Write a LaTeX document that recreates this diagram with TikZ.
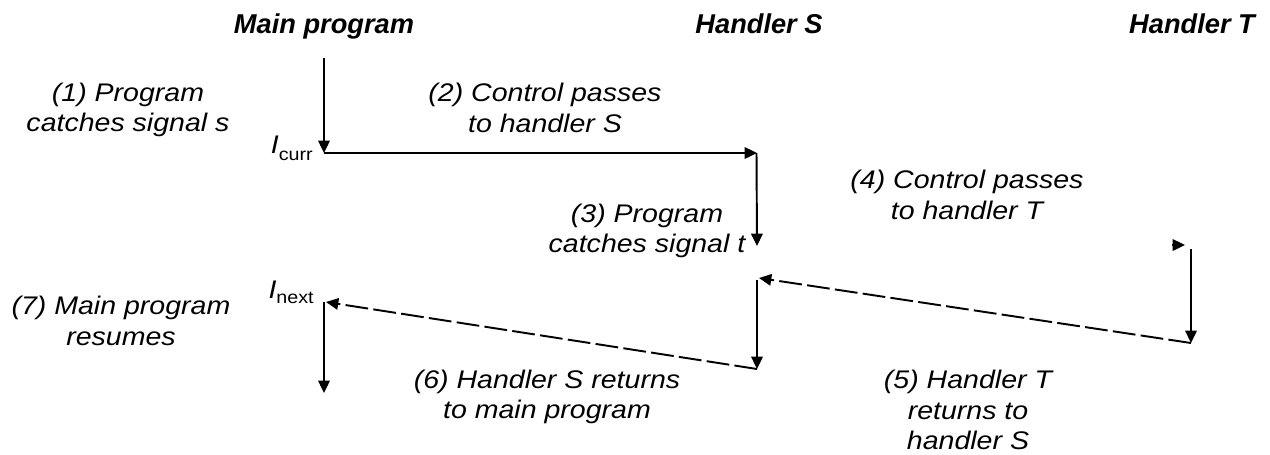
\documentclass[tikz,border=0pt]{standalone}
\usepackage{fontspec}
\setmainfont{Liberation Sans}[FakeStretch=1.12]
\newfontfamily\titlefont{Liberation Sans}
\usetikzlibrary{arrows.meta, positioning}

\begin{document}
\begin{tikzpicture}[
  x=0.02cm, y=-0.02cm,
  font=\fontsize{14.5}{17.5}\selectfont\itshape,
  title/.style={
    font=\titlefont\fontsize{15.5}{17.5}\selectfont\bfseries\itshape,
    anchor=base
  },
  lbl/.style={
    align=center,
    inner sep=0pt
  },
  arrow/.style={
    draw=black,
    line width=1.1pt,
    -{Triangle[length=7pt,width=6.5pt]}
  },
  retarrow/.style={
    arrow,
    dash pattern=on 13pt off 3pt
  }
]
\useasboundingbox (0,0) rectangle (1270,454);

% Column titles
\node[title] (mainp) at (324,33) {Main program};
\node[title] (hands) at (759,33) {Handler S};
\node[title] (handt) at (1192,33) {Handler T};

% Points of the control flow
\coordinate (m0) at (324,58);
\coordinate (icurr) at (324,153);
\coordinate (s0) at (757,153);
\coordinate (s0a) at (756.5,153);
\coordinate (s1) at (757,246);
\coordinate (t4a) at (1172,245);
\coordinate (t4b) at (1185,245);
\coordinate (t0) at (1191,249);
\coordinate (t1) at (1191,343);
\coordinate (s2) at (759,278);
\coordinate (s2top) at (757,280);
\coordinate (s3) at (757,369);
\coordinate (inext) at (326,302);
\coordinate (m1) at (324,302);
\coordinate (m2) at (324,393);

% Flow of control
\draw[arrow] (m0) -- (icurr);
\draw[arrow] (icurr) -- (s0);
\draw[arrow] (s0a) -- (s1);
\draw[arrow] (t4a) -- (t4b);
\draw[arrow] (t0) -- (t1);
\draw[retarrow] (t1) -- (s2);
\draw[arrow] (s2top) -- (s3);
\draw[retarrow] (s3) -- (inext);
\draw[arrow] (m1) -- (m2);

% Instruction labels
\node[anchor=base east, inner sep=0pt] (lcurr) at (313,153)
{I\raisebox{-4pt}{\fontsize{10}{11}\selectfont\upshape curr}};
\node[anchor=base east, inner sep=0pt] (lnext) at (314,298)
{I\raisebox{-3pt}{\fontsize{10}{11}\selectfont\upshape next}};

% Step labels
\node[lbl] (step1) at (128,110) {(1) Program\\catches signal s};
\node[lbl] (step2) at (545,108) {(2) Control passes\\to handler S};
\node[lbl] (step3) at (647,231) {(3) Program\\catches signal t};
\node[lbl] (step4) at (967,195) {(4) Control passes\\to handler T};
\node[lbl] (step7) at (121,321) {(7) Main program\\resumes};
\node[lbl] (step6) at (547,397) {(6) Handler S returns\\to main program};
\node[lbl] (step5) at (968,410) {(5) Handler T\\returns to\\handler S};

\end{tikzpicture}
\end{document}
